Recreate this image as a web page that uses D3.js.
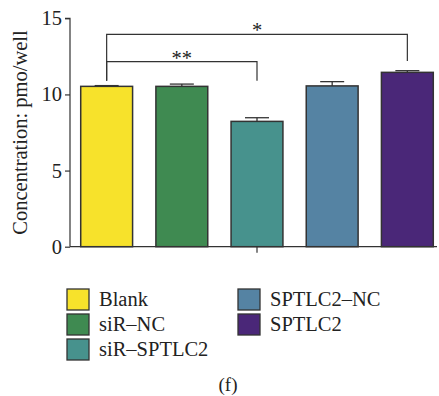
<!DOCTYPE html>
<html><head><meta charset="utf-8">
<script src="https://cdn.jsdelivr.net/npm/d3@7"></script>
<style>body{margin:0;background:#fff}svg{display:block}text{font-family:"Liberation Serif","DejaVu Serif",serif !important;fill:#222}</style>
</head><body><svg id="c" width="439" height="396"></svg>
<script>
const categories = ["Blank","siR–NC","siR–SPTLC2","SPTLC2–NC","SPTLC2"];
const values = [10.53, 10.53, 8.23, 10.56, 11.45];
const errors = [0.05, 0.15, 0.24, 0.28, 0.11];
const colors = ["#F7E22B","#3F8A51","#47928D","#5583A3","#4A2778"];
const yTicks = [0,5,10,15];
const sig = [
  {from:0, to:4, label:"*", level:13.95, leftEnd:10.9, rightEnd:12.2},
  {from:0, to:2, label:"**", level:12.15, leftEnd:10.9, rightEnd:10.9}
];

const svg = d3.select("#c");
const x = d3.scaleBand().domain(categories).range([73.2, 440.8]).paddingInner(0.31).paddingOuter(0.1);
const y = d3.scaleLinear().domain([0,15]).range([246.7, 18.3]);
const axisX0 = 70, axisX1 = 437;
const FS = 20.5;

svg.selectAll("rect.bar").data(categories).enter().append("rect")
  .attr("x", d=>x(d)).attr("width", x.bandwidth())
  .attr("y", (d,i)=>y(values[i])).attr("height", (d,i)=>y(0)-y(values[i]))
  .attr("fill",(d,i)=>colors[i]).attr("stroke","#333").attr("stroke-width",1.5);

const eb = svg.append("g").attr("stroke","#333").attr("stroke-width",1.3);
categories.forEach((c,i)=>{
  const cx = x(c)+x.bandwidth()/2;
  eb.append("line").attr("x1",cx).attr("x2",cx).attr("y1",y(values[i])).attr("y2",y(values[i]+errors[i]));
  eb.append("line").attr("x1",cx-12).attr("x2",cx+12).attr("y1",y(values[i]+errors[i])).attr("y2",y(values[i]+errors[i]));
});

const yAxis = d3.axisLeft(y).tickValues(yTicks).tickSize(5).tickPadding(3);
const gy = svg.append("g").attr("transform",`translate(${axisX0},0)`).call(yAxis);
gy.select(".domain").attr("stroke","#333").attr("stroke-width",1.2).attr("d",`M-5,${y(15)}H0V${y(0)}`);
gy.selectAll(".tick line").attr("stroke","#333").attr("stroke-width",1.2);
gy.selectAll(".tick text").attr("font-size",FS).attr("fill","#222");

svg.append("line").attr("x1",axisX0).attr("x2",axisX1).attr("y1",y(0)).attr("y2",y(0)).attr("stroke","#333").attr("stroke-width",1.2);
const midX = x(categories[2])+x.bandwidth()/2;
svg.append("line").attr("x1",midX).attr("x2",midX).attr("y1",y(0)).attr("y2",y(0)+6).attr("stroke","#333").attr("stroke-width",1.2);

svg.append("text").attr("transform",`translate(27,${(y(0)+y(15))/2}) rotate(-90)`)
  .attr("text-anchor","middle").attr("font-size",FS).text("Concentration: pmo/well");

const sg = svg.append("g");
sig.forEach(s=>{
  const x1 = x(categories[s.from])+x.bandwidth()/2, x2 = x(categories[s.to])+x.bandwidth()/2;
  sg.append("path").attr("fill","none").attr("stroke","#333").attr("stroke-width",1.2)
    .attr("d",`M${x1},${y(s.leftEnd)}V${y(s.level)}H${x2}V${y(s.rightEnd)}`);
  sg.append("text").attr("x",(x1+x2)/2).attr("y",y(s.level)+3).attr("text-anchor","middle")
    .attr("font-size",FS).attr("fill","#555").text(s.label);
});

const lg = svg.append("g");
const legPos = [[67,289],[67,314],[67,339],[238,289],[238,314]];
categories.forEach((c,i)=>{
  const [lx,ly] = legPos[i];
  lg.append("rect").attr("x",lx).attr("y",ly).attr("width",22).attr("height",21)
    .attr("fill",colors[i]).attr("stroke","#333").attr("stroke-width",1.3);
  lg.append("text").attr("x",lx+32).attr("y",ly+16.5).attr("font-size",FS).text(c);
});
svg.append("text").attr("x",228).attr("y",391).attr("text-anchor","middle").attr("font-size",19).text("(f)");
</script></body></html>
